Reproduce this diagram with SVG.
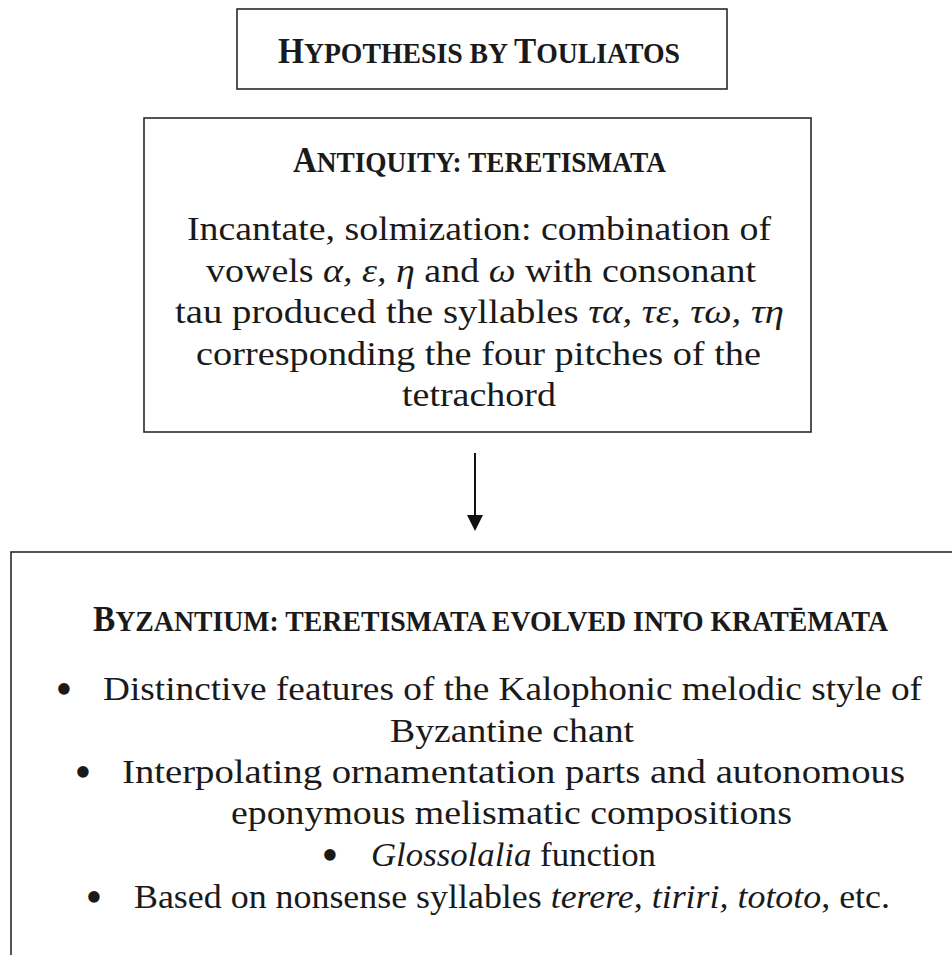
<svg xmlns="http://www.w3.org/2000/svg" width="952" height="955" viewBox="0 0 952 955">
<style>
.box{fill:#fff;stroke:#2a2a2a;stroke-width:1.6}
.hd{font-family:"Liberation Serif","Times New Roman",serif;font-weight:bold;fill:#1a1a1a}
.cap{font-size:36px}
.sc{font-size:30px}
.tx{font-family:"Liberation Serif","Times New Roman",serif;font-size:33px;fill:#1a1a1a}
.bul{font-family:"Liberation Serif","Times New Roman",serif;font-size:48px;fill:#1a1a1a}
.it{font-style:italic}
.conn{stroke:#111;stroke-width:2;fill:none}
.head{fill:#111;stroke:none}
</style>
<rect width="952" height="955" fill="#fff"/>
<g id="title">
<rect class="box" x="237" y="9" width="490" height="80"/>
<text class="hd" transform="translate(278,63) scale(0.925,1)" x="0" y="0"><tspan class="cap">H</tspan><tspan class="sc">YPOTHESIS BY </tspan><tspan class="cap">T</tspan><tspan class="sc">OULIATOS</tspan></text>
</g>
<g id="antiquity">
<rect class="box" x="144" y="118" width="667" height="314"/>
<text class="hd" x="293" y="172" textLength="373" lengthAdjust="spacingAndGlyphs"><tspan class="cap">A</tspan><tspan class="sc">NTIQUITY: TERETISMATA</tspan></text>
<text class="tx" x="187" y="240" textLength="584" lengthAdjust="spacingAndGlyphs">Incantate, solmization: combination of</text>
<text class="tx" x="206" y="282" textLength="550" lengthAdjust="spacingAndGlyphs">vowels <tspan class="it">α, ε, η</tspan> and <tspan class="it">ω</tspan> with consonant</text>
<text class="tx" x="175" y="323" textLength="609" lengthAdjust="spacingAndGlyphs">tau produced the syllables <tspan class="it">τα, τε, τω, τη</tspan></text>
<text class="tx" x="196" y="365" textLength="565" lengthAdjust="spacingAndGlyphs">corresponding the four pitches of the</text>
<text class="tx" x="402" y="406" textLength="154" lengthAdjust="spacingAndGlyphs">tetrachord</text>
</g>
<g id="connectors">
<line class="conn" x1="475" y1="453" x2="475" y2="517"/>
<polygon class="head" points="467,515 483,515 475,531"/>
</g>
<g id="byzantium">
<rect class="box" x="11" y="552" width="1000" height="500"/>
<text class="hd" x="93" y="631" textLength="795" lengthAdjust="spacingAndGlyphs"><tspan class="cap">B</tspan><tspan class="sc">YZANTIUM: TERETISMATA EVOLVED INTO KRATĒMATA</tspan></text>
<text class="bul" x="64" y="705" text-anchor="middle">•</text>
<text class="tx" x="103" y="700" textLength="819" lengthAdjust="spacingAndGlyphs">Distinctive features of the Kalophonic melodic style of</text>
<text class="tx" x="390" y="742" textLength="244" lengthAdjust="spacingAndGlyphs">Byzantine chant</text>
<text class="bul" x="83" y="788" text-anchor="middle">•</text>
<text class="tx" x="122" y="783" textLength="783" lengthAdjust="spacingAndGlyphs">Interpolating ornamentation parts and autonomous</text>
<text class="tx" x="231" y="824" textLength="561" lengthAdjust="spacingAndGlyphs">eponymous melismatic compositions</text>
<text class="bul" x="330" y="871" text-anchor="middle">•</text>
<text class="tx" x="371" y="866" textLength="285" lengthAdjust="spacingAndGlyphs"><tspan class="it">Glossolalia</tspan> function</text>
<text class="bul" x="94" y="913" text-anchor="middle">•</text>
<text class="tx" x="134" y="908" textLength="756" lengthAdjust="spacingAndGlyphs">Based on nonsense syllables <tspan class="it">terere, tiriri, tototo</tspan>, etc.</text>
</g>
</svg>
